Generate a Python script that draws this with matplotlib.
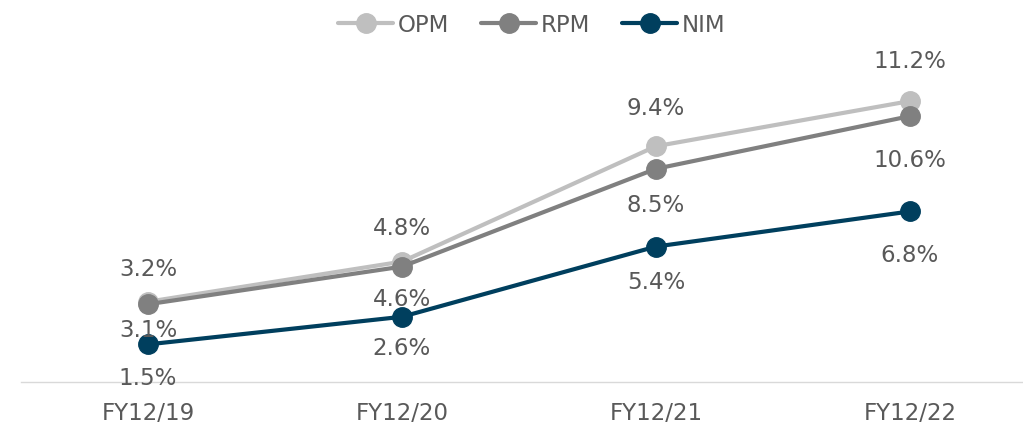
import matplotlib.pyplot as plt

plt.rcParams['font.family'] = ['DejaVu Sans']

periods = ['FY12/19', 'FY12/20', 'FY12/21', 'FY12/22']
opm = [3.2, 4.8, 9.4, 11.2]
rpm = [3.1, 4.6, 8.5, 10.6]
nim = [1.5, 2.6, 5.4, 6.8]

# label offsets in pixels (positive = up)
series = [
    ('OPM', opm, '#BFBFBF', [33, 34, 39, 41]),
    ('RPM', rpm, '#808080', [-25, -32, -36, -43]),
    ('NIM', nim, '#003F5E', [-33, -31, -35, -43]),
]
txt = '#595959'
fs = 16.5

fig = plt.figure(figsize=(10.23, 4.31), dpi=100)
ax = fig.add_axes([21 / 1023, 1 - 383 / 431, 1016 / 1023, 301 / 431])

x = range(len(periods))
for name, vals, col, offs in series:
    ax.plot(x, vals, color=col, lw=3, marker='o', ms=14, label=name,
            solid_capstyle='round')
    for xi, v, dy in zip(x, vals, offs):
        ax.annotate(f'{v:.1f}%', (xi, v), xytext=(0, dy), textcoords='offset pixels',
                    ha='center', va='center', fontsize=fs, color=txt)

ax.set_xlim(-0.5, 3.5)
ax.set_ylim(0, 12)
ax.set_xticks(list(x))
ax.set_xticklabels(periods, fontsize=fs, color=txt)
ax.tick_params(axis='x', length=0, pad=14)
ax.set_yticks([])
for s in ['top', 'right', 'left']:
    ax.spines[s].set_visible(False)
ax.spines['bottom'].set_color('#D9D9D9')
ax.spines['bottom'].set_linewidth(1)

leg = fig.legend(loc='center', bbox_to_anchor=(532 / 1023, 1 - 26 / 431), ncol=3,
                 frameon=False, fontsize=fs, handlelength=2.4, columnspacing=1.4,
                 handletextpad=0.2)
for t in leg.get_texts():
    t.set_color(txt)

fig.savefig('out.png', dpi=100)
